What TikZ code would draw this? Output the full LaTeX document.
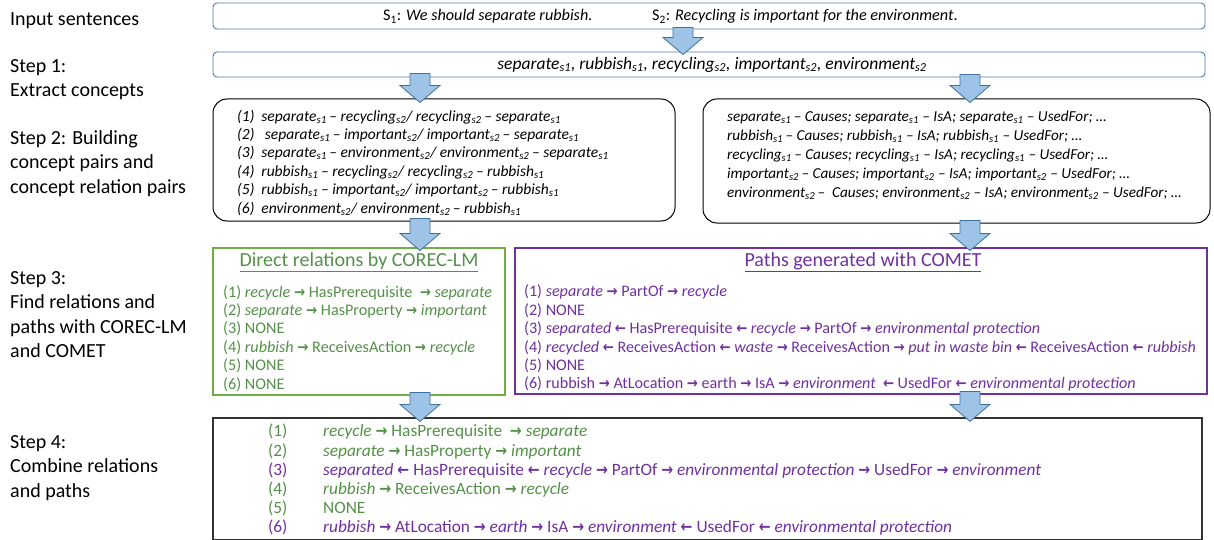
\documentclass[tikz,border=0pt]{standalone}
\usepackage{fontspec}
\usepackage{graphicx}
\setmainfont{Carlito}
\newfontfamily\arrowsfont{DejaVu Sans}
\usetikzlibrary{calc}

\definecolor{arrowfill}{RGB}{157,195,230}
\definecolor{arrowline}{RGB}{65,113,156}
\definecolor{inputline}{RGB}{80,120,170}
\definecolor{corecgreen}{RGB}{84,145,72}
\definecolor{corecline}{RGB}{112,173,71}
\definecolor{cometpurple}{RGB}{112,48,160}

\newcommand{\sub}[1]{\textsubscript{#1}}
\newcommand{\ra}{\scalebox{0.82}[0.95]{\arrowsfont\bfseries\char"2192}}
\newcommand{\la}{\scalebox{0.82}[0.95]{\arrowsfont\bfseries\char"2190}}
% block arrow from #1 down to #2
\newcommand{\blockarrow}[2]{\draw[blockarrow] let \p1=#1, \p2=#2 in
	(\x1-10pt,\y1) -- (\x1+10pt,\y1) -- (\x1+10pt,\y2+17pt) -- (\x1+20pt,\y2+17pt)
	-- (\x1,\y2) -- (\x1-20pt,\y2+17pt) -- (\x1-10pt,\y2+17pt) -- cycle;}

\tikzset{
	steplabel/.style={anchor=north west, align=left, inner sep=0pt, font=\fontsize{20}{24.5}\selectfont},
	listtext/.style={anchor=north west, align=left, inner sep=0pt},
	plaintext/.style={inner sep=0pt},
	boxtitle/.style={inner sep=0pt, font=\fontsize{20}{22}\selectfont},
	inbox/.style={draw=inputline, rounded corners=4pt, line width=0.9pt, minimum width=992pt, inner sep=0pt},
	pairbox/.style={draw=black, rounded corners=14pt, line width=1pt, inner sep=0pt},
	corecbox/.style={draw=corecline, line width=1.1pt, inner sep=0pt},
	cometbox/.style={draw=cometpurple, line width=1.1pt, inner sep=0pt},
	combinebox/.style={draw=black!80, line width=1.2pt, inner sep=0pt},
	blockarrow/.style={draw=arrowline, fill=arrowfill, line width=0.8pt, line join=miter},
}

\begin{document}
\begin{tikzpicture}[x=1pt, y=-1pt]
	\useasboundingbox (0,0) rectangle (1214,540);

	% step labels
	\node (inlabel)[steplabel] at (10,12) {Input sentences};
	\node (onelabel)[steplabel] at (10,59) {Step 1:\\Extract concepts};
	\node (twolabel)[steplabel] at (10,130) {Step 2: Building\\concept pairs and\\concept relation pairs};
	\node (threelabel)[steplabel] at (10,271) {Step 3:\\Find relations and\\paths with COREC-LM\\and COMET};
	\node (fourlabel)[steplabel] at (10,435) {Step 4:\\Combine relations\\and paths};

	% input and concepts
	\node (input)[inbox, minimum height=26pt] at (709,16) {};
	\node (sentone)[plaintext, anchor=west, font=\fontsize{16.2}{18}\selectfont] at (383,16.5) {S\sub{1}: \textit{We should separate rubbish.}};
	\node (senttwo)[plaintext, anchor=west, font=\fontsize{16.2}{18}\selectfont] at (652,16.5) {S\sub{2}: \textit{Recycling is important for the environment}.};
	\node (concepts)[inbox, minimum height=25pt] at (709,64.5) {};
	\node (conceptlist)[plaintext, font=\fontsize{17.5}{18}\selectfont\itshape] at (712,64.5) {separate\sub{s1}, rubbish\sub{s1}, recycling\sub{s2}, important\sub{s2}, environment\sub{s2}};

	% step 2
	\node (pairs)[pairbox, minimum width=462pt, minimum height=122pt] at (444,160) {};
	\node (pairlist)[listtext, font=\fontsize{15.5}{18.4}\selectfont\itshape] at (237,109.5) {
		(1)\ \ separate\sub{s1}\,-- recycling\sub{s2}/ recycling\sub{s2}\,-- separate\sub{s1}\\
		(2)\ \ \ separate\sub{s1}\,-- important\sub{s2}/ important\sub{s2}\,-- separate\sub{s1}\\
		(3)\ \ separate\sub{s1}\,-- environment\sub{s2}/ environment\sub{s2}\,-- separate\sub{s1}\\
		(4)\ \ rubbish\sub{s1}\,-- recycling\sub{s2}/ recycling\sub{s2}\,-- rubbish\sub{s1}\\
		(5)\ \ rubbish\sub{s1}\,-- important\sub{s2}/ important\sub{s2}\,-- rubbish\sub{s1}\\
		(6)\ \ environment\sub{s2}/ environment\sub{s2}\,-- rubbish\sub{s1}};
	\node (relpairs)[pairbox, minimum width=507pt, minimum height=124pt] at (956.5,161) {};
	\node (relpairlist)[listtext, font=\fontsize{15.2}{19}\selectfont\itshape] at (727,111) {
		separate\sub{s1}\,-- Causes; separate\sub{s1} -- IsA; separate\sub{s1} -- UsedFor; \dots\\
		rubbish\sub{s1}\,-- Causes; rubbish\sub{s1} -- IsA; rubbish\sub{s1} -- UsedFor; \dots\\
		recycling\sub{s1}\,-- Causes; recycling\sub{s1} -- IsA; recycling\sub{s1} -- UsedFor; \dots\\
		important\sub{s2}\,-- Causes; important\sub{s2} -- IsA; important\sub{s2} -- UsedFor; \dots\\
		environment\sub{s2}\,--\ \ Causes; environment\sub{s2} -- IsA; environment\sub{s2} -- UsedFor; \dots};

	% step 3
	\node (corec)[corecbox, minimum width=292pt, minimum height=147pt] at (359,321.5) {};
	\node (corectitle)[boxtitle, text=corecgreen] at (359,262) {\underline{Direct relations by COREC-LM}};
	\node (coreclist)[listtext, text=corecgreen, font=\fontsize{16.2}{18.4}\selectfont] at (223,285) {
		(1) \textit{recycle} \ra{} HasPrerequisite \ \ra{} \textit{separate}\\
		(2) \textit{separate} \ra{} HasProperty \ra{} \textit{important}\\
		(3) NONE\\
		(4) \textit{rubbish} \ra{} ReceivesAction \ra{} \textit{recycle}\\
		(5) NONE\\
		(6) NONE};
	\node (comet)[cometbox, minimum width=692pt, minimum height=146pt] at (861,321) {};
	\node (comettitle)[boxtitle, text=cometpurple] at (863,262) {\underline{Paths generated with COMET}};
	\node (cometlist)[listtext, text=cometpurple, font=\fontsize{16.1}{18.4}\selectfont] at (524,285) {
		(1) \textit{separate} \ra{} PartOf \ra{} \textit{recycle}\\
		(2) NONE\\
		(3) \textit{separated} \la{} HasPrerequisite \la{} \textit{recycle} \ra{} PartOf \ra{} \textit{environmental protection}\\
		(4) \textit{recycled} \la{} ReceivesAction \la{} \textit{waste} \ra{} ReceivesAction \ra{} \textit{put in waste bin} \la{} ReceivesAction \la{} \textit{rubbish}\\
		(5) NONE\\
		(6) rubbish \ra{} AtLocation \ra{} earth \ra{} IsA \ra{} \textit{environment} \ \la{} UsedFor \la{} \textit{environmental protection}};

	% step 4
	\node (combine)[combinebox, minimum width=989pt, minimum height=122pt] at (707.5,479) {};
	\node (combinelist)[listtext, font=\fontsize{17.3}{19.2}\selectfont] at (268,424) {
		{\color{corecgreen}\makebox[55pt][l]{(1)}\textit{recycle} \ra{} HasPrerequisite \ \ra{} \textit{separate}}\\
		{\color{corecgreen}\makebox[55pt][l]{(2)}\textit{separate} \ra{} HasProperty \ra{} \textit{important}}\\
		{\color{cometpurple}\makebox[55pt][l]{(3)}\textit{separated} \la{} HasPrerequisite \la{} \textit{recycle} \ra{} PartOf \ra{} \textit{environmental protection} \ra{} UsedFor \ra{} \textit{environment}}\\
		{\color{corecgreen}\makebox[55pt][l]{(4)}\textit{rubbish} \ra{} ReceivesAction \ra{} \textit{recycle}}\\
		{\color{corecgreen}\makebox[55pt][l]{(5)}NONE}\\
		{\color{cometpurple}\makebox[55pt][l]{(6)}\textit{rubbish} \ra{} AtLocation \ra{} \textit{earth} \ra{} IsA \ra{} \textit{environment} \la{} UsedFor \la{} \textit{environmental protection}}};

	% block arrows
	\blockarrow{($(input.south)+(-26,-2)$)}{($(concepts.north)+(-26,3)$)}
	\blockarrow{($(concepts.south)+(-289,-4)$)}{($(pairs.north)+(-24,4)$)}
	\blockarrow{($(concepts.south)+(261,-3)$)}{($(relpairs.north)+(13.5,4)$)}
	\blockarrow{($(pairs.south)+(-24,-3)$)}{($(corec.north)+(61,3)$)}
	\blockarrow{($(relpairs.south)+(13.5,-3)$)}{($(comet.north)+(109,3)$)}
	\blockarrow{($(corec.south)+(61,-3)$)}{($(combine.north)+(-287.5,4)$)}
	\blockarrow{($(comet.south)+(109,-3)$)}{($(combine.north)+(262.5,4)$)}
\end{tikzpicture}
\end{document}
